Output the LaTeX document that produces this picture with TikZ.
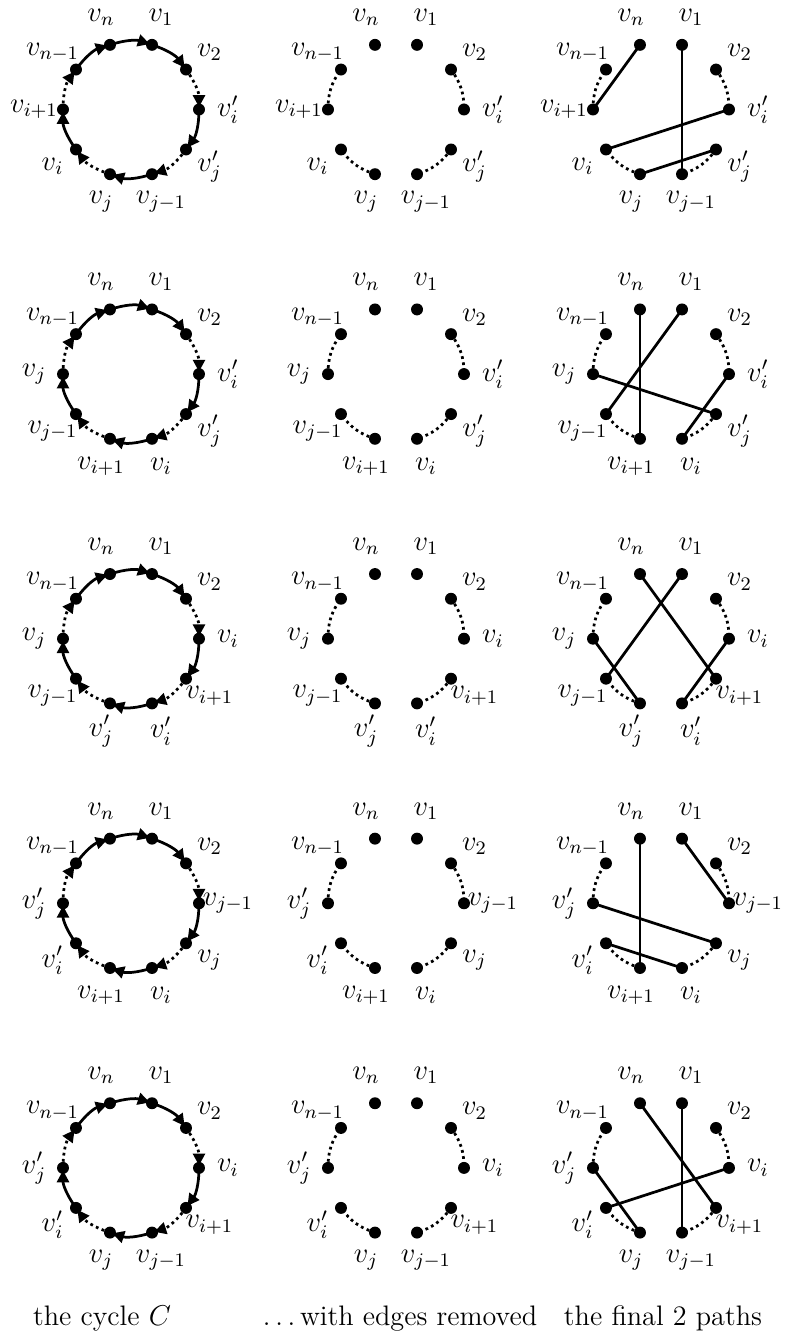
\documentclass[tikz,border=0pt]{standalone}
\usetikzlibrary{arrows.meta}
\newcommand\mkcircle[4]{% #1 prefix, #2 cx, #3 cy, #4 labels
  \begin{scope}[shift={(#2,#3)}]
    \foreach \lab [count=\k from 0] in {#4} {
      \pgfmathsetmacro\ang{108-36*\k}
      \coordinate (#1-\k) at (\ang:68);
      \node[lbl] (#1-L\k) at (\ang:97) {$\lab$};
    }
  \end{scope}}
\newcommand\dotarcs[2]{% #1 prefix, #2 extra style
  \foreach \a/\b in {2/3,4/5,6/7,8/9}
    \draw[dotedge,#2] (#1-\a) to[bend left=18] (#1-\b);}
\newcommand\solidarcs[1]{%
  \foreach \a/\b in {0/1,1/2,3/4,5/6,7/8,9/0}
    \draw[solidedge,arr] (#1-\a) to[bend left=18] (#1-\b);}
\newcommand\putdots[1]{%
  \foreach \k in {0,...,9} \node[vdot] (#1-d\k) at (#1-\k) {};}
\newcommand\chords[2]{%
  \foreach \a/\b in {#2} \draw[solidedge] (#1-\a) -- (#1-\b);}
\newcommand\onerow[4]{% #1 row id, #2 cy, #3 labels, #4 chords
  \mkcircle{#1a}{131}{#2}{#3}
  \mkcircle{#1b}{396}{#2}{#3}
  \mkcircle{#1c}{661}{#2}{#3}
  \solidarcs{#1a}\dotarcs{#1a}{arr}\putdots{#1a}
  \dotarcs{#1b}{}\putdots{#1b}
  \dotarcs{#1c}{}\chords{#1c}{#4}\putdots{#1c}}
\begin{document}
\begin{tikzpicture}[x=0.0147059cm, y=0.0147059cm,
  font=\fontsize{11.8}{14}\selectfont,
  lbl/.style={inner sep=0pt},
  vdot/.style={circle, fill=black, inner sep=0pt, minimum size=5pt},
  solidedge/.style={line width=1.15pt},
  dotedge/.style={line width=1.15pt, dash pattern=on 1.15pt off 1.45pt},
  arr/.style={-{Triangle[length=5pt,width=5pt]}, shorten >=1pt},
  captext/.style={anchor=base, inner sep=0pt}]
\useasboundingbox (0,0) rectangle (786,-1334);
\onerow{r1}{-109.5}{v_n,v_1,v_2,v_i',v_j',v_{j-1},v_j,v_i,v_{i+1},v_{n-1}}{0/8,1/5,3/7,4/6}
\onerow{r2}{-374.1}{v_n,v_1,v_2,v_i',v_j',v_i,v_{i+1},v_{j-1},v_j,v_{n-1}}{0/6,1/7,8/4,3/5}
\onerow{r3}{-638.7}{v_n,v_1,v_2,v_i,v_{i+1},v_i',v_j',v_{j-1},v_j,v_{n-1}}{0/4,1/7,8/6,3/5}
\onerow{r4}{-903.3}{v_n,v_1,v_2,v_{j-1},v_j,v_i,v_{i+1},v_i',v_j',v_{n-1}}{0/6,1/3,8/4,7/5}
\onerow{r5}{-1167.9}{v_n,v_1,v_2,v_i,v_{i+1},v_{j-1},v_j,v_i',v_j',v_{n-1}}{0/4,1/5,3/7,8/6}
\node[captext] (cap1) at (102,-1325) {the cycle $C$};
\node[captext] (cap2) at (400,-1325) {.\kern.167em.\kern.167em.\kern.167em with edges removed};
\node[captext] (cap3) at (663,-1325) {the final 2 paths};
\end{tikzpicture}
\end{document}
